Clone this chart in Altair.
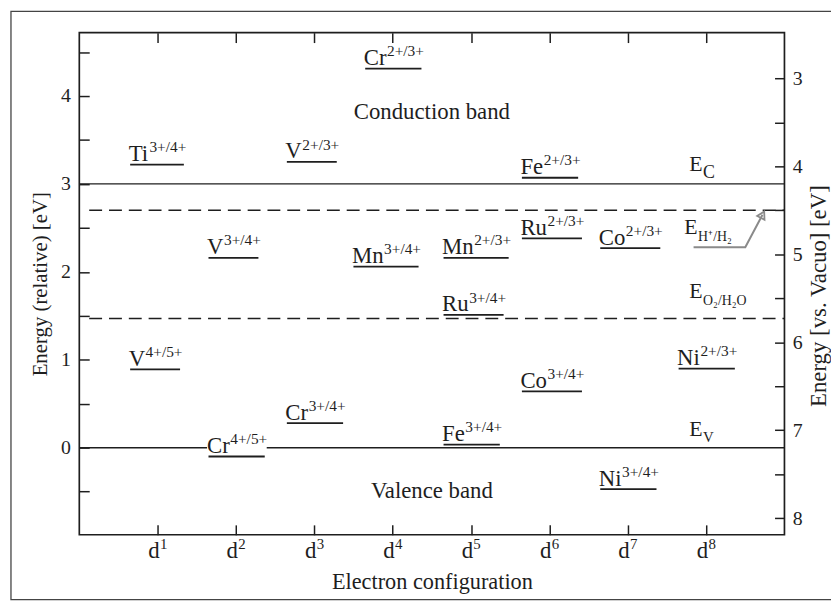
import altair as alt
import pandas as pd
import math

# ---------------- data ----------------
ION = ["Ti", "V", "Cr", "V", "Mn", "Mn", "Ru", "Co", "Fe",
       "Ru", "V", "Cr", "Cr", "Fe", "Co", "Ni", "Ni"]
COUPLE = ["3+/4+", "2+/3+", "2+/3+", "3+/4+", "3+/4+", "2+/3+", "2+/3+", "2+/3+", "2+/3+",
          "3+/4+", "4+/5+", "3+/4+", "4+/5+", "3+/4+", "3+/4+", "2+/3+", "3+/4+"]
D_ELECTRONS = [1, 3, 4, 2, 4, 5, 6, 7, 6, 5, 1, 3, 2, 5, 6, 8, 7]
ENERGY = [3.22, 3.25, 4.31, 2.16, 2.06, 2.16, 2.38, 2.27, 3.07,
          1.51, 0.89, 0.28, -0.10, 0.035, 0.64, 0.90, -0.47]

BAND_EDGES = [3.0, 0.0]            # E_C, E_V (solid lines)
REDOX_REFS = [2.70, 1.47]          # E_H+/H2, E_O2/H2O (dashed lines)
REF_SUBSCRIPTS = ["C", "H⁺/H₂", "O₂/H₂O", "V"]
REF_LEVELS = [3.0, 2.70, 1.47, 0.0]
VACUUM_OFFSET = 7.2                # E(vs vacuum) = 7.2 - E(relative)
X_TICKS = [1, 2, 3, 4, 5, 6, 7, 8]
X_TICK_SUP = ["1", "2", "3", "4", "5", "6", "7", "8"]
BAND_NAMES = ["Conduction band", "Valence band"]
ARROW_X = [7.84, 8.50, 8.72]
ARROW_Y = [2.28, 2.28, 2.65]

# ---------------- layout ----------------
W, H = 712, 507
XMIN, XMAX = 0, 9
YMIN, YMAX = -0.99, 4.72
PXX = W / (XMAX - XMIN)
PXY = H / (YMAX - YMIN)
FONT = "Liberation Serif"
INK = "#1e1e1e"
FS, FS_SUP = 23, 15.5

CW = {'T': 611, 'i': 278, 'V': 722, 'C': 667, 'r': 333, 'M': 889, 'n': 500, 'F': 556,
      'e': 444, 'R': 667, 'u': 500, 'o': 500, 'N': 722, 'E': 611, 'd': 500, '+': 564,
      '/': 278}


def tw(s, fs):
    return sum(CW.get(c, 500) for c in s) * fs / 1000.0


NUDGE = {("Mn", "3+/4+"): -0.15}

texts, segs, masks = [], [], []
for ion, cp, d, e in zip(ION, COUPLE, D_ELECTRONS, ENERGY):
    left = d - 0.37 + NUDGE.get((ion, cp), 0.0)
    bw, sw = tw(ion, FS), tw(cp, FS_SUP)
    texts.append(dict(x=left, y=e + 3.5 / PXY, t=ion, fs=FS, a="left"))
    texts.append(dict(x=left + (bw + 0.5) / PXX, y=e + 12.5 / PXY, t=cp, fs=FS_SUP, a="left"))
    segs.append(dict(x=left + 1.5 / PXX, x2=left + (bw + sw - 2) / PXX, y=e))
    masks.append(dict(x=left, x2=left + (bw + sw) / PXX, y=e + 2 / PXY, y2=e + 25 / PXY))

# E reference labels: (x, dy of E baseline, subscript size, subscript drop)
REF_POS = [(8 - 17 / PXX, 13, 18, 7), (8 - 22 / PXX, -24, 14, 7),
           (8 - 17 / PXX, 21, 14, 7), (8 - 17 / PXX, 12, 15, 6)]
for sub, lvl, (x0, dy, fss, sdy) in zip(REF_SUBSCRIPTS, REF_LEVELS, REF_POS):
    texts.append(dict(x=x0, y=lvl + dy / PXY, t="E", fs=FS - 1, a="left"))
    texts.append(dict(x=x0 + (tw("E", FS - 1) + 0.5) / PXX, y=lvl + (dy - sdy) / PXY,
                      t=sub, fs=fss, a="left"))

# band names
texts.append(dict(x=4.5, y=YMAX - 87 / PXY, t=BAND_NAMES[0], fs=FS, a="center"))
texts.append(dict(x=4.5, y=YMAX - 470 / PXY, t=BAND_NAMES[1], fs=FS, a="center"))

# x tick labels d^n
for xt, sup in zip(X_TICKS, X_TICK_SUP):
    tot = tw("d", FS) + tw(sup, 15)
    l0 = xt - tot / 2 / PXX
    texts.append(dict(x=l0, y=YMIN - 23 / PXY, t="d", fs=FS, a="left"))
    texts.append(dict(x=l0 + (tw("d", FS) + 0.3) / PXX, y=YMIN - 14 / PXY, t=sup, fs=15, a="left"))

tdf = pd.DataFrame(texts)
sdf = pd.DataFrame(segs)
mdf = pd.DataFrame(masks)
solid = pd.DataFrame({"y": BAND_EDGES})
dashed = pd.DataFrame({"y": REDOX_REFS})
arrow = pd.DataFrame({"x": ARROW_X, "y": ARROW_Y, "o": [0, 1, 2]})
tip = arrow.tail(1)
ang = math.degrees(math.atan2((ARROW_X[2] - ARROW_X[1]) * PXX, (ARROW_Y[2] - ARROW_Y[1]) * PXY))

xs = alt.Scale(domain=[XMIN, XMAX], nice=False, zero=False)
ys = alt.Scale(domain=[YMIN, YMAX], nice=False, zero=False)


def X(f="x"):
    return alt.X(f"{f}:Q", scale=xs, axis=None)


def Y(f="y"):
    return alt.Y(f"{f}:Q", scale=ys, axis=None)


left_vals = [v / 2 for v in range(-1, 10)]
right_vals = [VACUUM_OFFSET - v / 2 for v in range(6, 17)]

x_bottom = alt.Axis(orient="bottom", values=X_TICKS, labels=False, tickSize=10, offset=-10,
                    domain=False, title="Electron configuration", titlePadding=36,
                    titleFontSize=22.5)
y_left = alt.Axis(orient="left", values=left_vals, tickSize=10, offset=-10, domain=False,
                  labelPadding=9, title="Energy (relative) [eV]", titlePadding=10,
                  labelExpr="datum.value % 1 == 0 ? format(datum.value, 'd') : ''")
x_top = alt.Axis(orient="top", values=X_TICKS, labels=False, tickSize=10, offset=-10,
                 domain=False, title=None)
y_right = alt.Axis(orient="right", values=right_vals, tickSize=10, offset=-10, domain=False,
                   labelPadding=8, title="Energy [vs. Vacuo] [eV]", titleAngle=270,
                   titleBaseline="top", titlePadding=5, titleFontSize=23,
                   titleY=H / 2 + 12,
                   labelExpr=f"abs(round({VACUUM_OFFSET} - datum.value) - ({VACUUM_OFFSET} - datum.value)) < 0.01 ? format(round({VACUUM_OFFSET} - datum.value), 'd') : ''")

axes1 = alt.Chart(sdf).mark_point(opacity=0).encode(
    x=alt.X("x:Q", scale=xs, axis=x_bottom),
    y=alt.Y("y:Q", scale=ys, axis=y_left),
)
axes2 = alt.Chart(sdf).mark_point(opacity=0).encode(
    x=alt.X("x:Q", scale=xs, axis=x_top),
    y=alt.Y("y:Q", scale=ys, axis=y_right),
)

solid_lines = alt.Chart(solid).mark_rule(color=INK, strokeWidth=1.4).encode(
    y=Y(), x=alt.value(0), x2=alt.value(W))
dashed_lines = alt.Chart(dashed).mark_rule(color=INK, strokeWidth=1.5, strokeDash=[13, 7]).encode(
    y=Y(), x=alt.value(10), x2=alt.value(W))

mask = alt.Chart(mdf).mark_rect(color="white").encode(
    x=X(), x2="x2:Q", y=Y(), y2="y2:Q")

segments = alt.Chart(sdf).mark_rule(color=INK, strokeWidth=1.8).encode(
    x=X(), x2="x2:Q", y=Y())

arrow_line = alt.Chart(arrow).mark_line(color="#8a8a8a", strokeWidth=2).encode(
    x=X(), y=Y(), order="o:Q")
arrow_head = alt.Chart(tip).mark_point(shape="triangle-up", filled=False, color="#8a8a8a",
                                       strokeWidth=1.8, size=70, angle=ang, opacity=1).encode(
    x=X(), y=Y())

labels_left = alt.Chart(tdf[tdf.a == "left"]).mark_text(
    align="left", baseline="alphabetic", font=FONT, color=INK).encode(
    x=X(), y=Y(), text="t:N", size=alt.Size("fs:Q", scale=None))
labels_center = alt.Chart(tdf[tdf.a == "center"]).mark_text(
    align="center", baseline="alphabetic", font=FONT, color=INK).encode(
    x=X(), y=Y(), text="t:N", size=alt.Size("fs:Q", scale=None))

border = alt.Chart(pd.DataFrame({"k": [0]})).mark_rect(
    filled=False, stroke="#444", strokeWidth=1.3).encode(
    x=alt.value(-69), x2=alt.value(W + 80), y=alt.value(-21.5), y2=alt.value(H + 65.5))

chart = alt.layer(
    axes1, axes2, solid_lines, dashed_lines, mask, segments,
    arrow_line, arrow_head, labels_left, labels_center, border
).resolve_axis(x="independent", y="independent").properties(
    width=W, height=H,
    autosize=alt.AutoSizeParams(type="none"),
    padding={"left": 72, "top": 22, "right": 47, "bottom": 67},
).configure_view(stroke=INK, strokeWidth=1.7).configure_axis(
    tickColor=INK, tickWidth=1.5, labelFont=FONT, labelFontSize=20, labelColor=INK,
    titleFont=FONT, titleFontSize=21, titleFontWeight="normal", titleColor=INK, grid=False,
)

chart.save("out.html", embed_options={"renderer": "svg", "actions": False})
